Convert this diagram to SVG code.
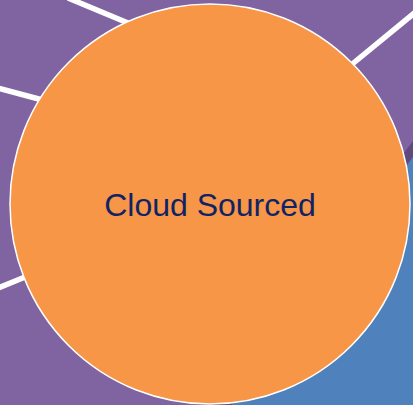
<svg xmlns="http://www.w3.org/2000/svg" width="413" height="405" viewBox="0 0 413 405">
<style>
.bg{fill:#8064A2}
.sep{stroke:#FFFFFF;stroke-width:5.5;fill:none}
.node{fill:#F79646;stroke:#FFFFFF;stroke-width:1.5}
.lbl{font-family:"Liberation Sans",Arial,sans-serif;font-size:32px;fill:#0F2366;text-anchor:middle}
</style>
<rect class="bg" x="0" y="0" width="413" height="405"/>
<polygon fill="#5F4A80" points="413,141 413,157 232,405 212,405"/>
<polygon fill="#4F81BD" points="413,157 413,405 232,405"/>
<g id="connectors">
<line class="sep" x1="68" y1="-2" x2="140" y2="28"/>
<line class="sep" x1="-2" y1="88" x2="50" y2="102"/>
<line class="sep" x1="418" y1="10" x2="345" y2="70"/>
<line class="sep" x1="-2" y1="288" x2="30" y2="275"/>
</g>
<g id="cloud-sourced">
<circle class="node" cx="210" cy="204" r="200"/>
<text class="lbl" x="210" y="216">Cloud Sourced</text>
</g>
</svg>
